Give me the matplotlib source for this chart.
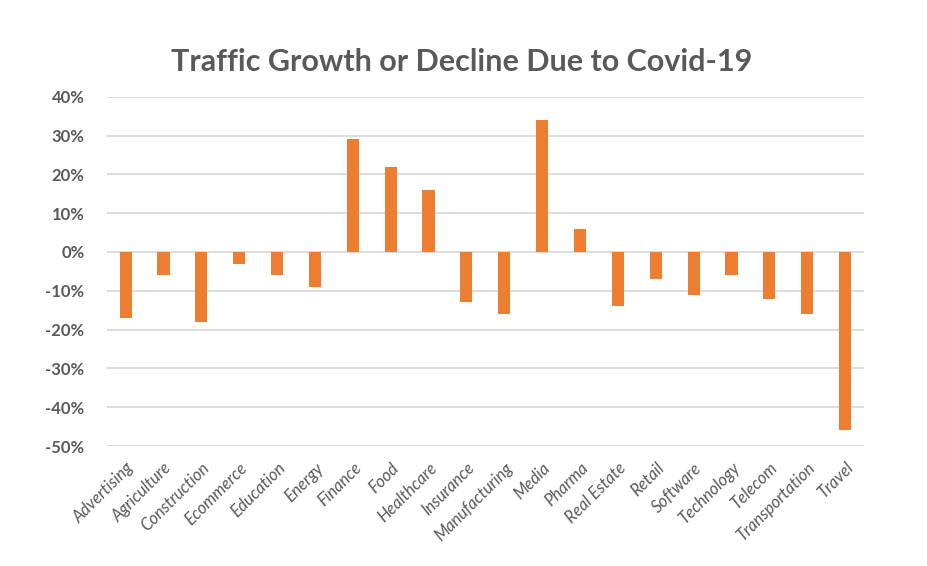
import numpy as np
import matplotlib.pyplot as plt
from matplotlib.ticker import PercentFormatter

# Дані
industries = ['Advertising', 'Agriculture', 'Construction', 'Ecommerce', 'Education',
              'Energy', 'Finance', 'Food', 'Healthcare', 'Insurance', 'Manufacturing',
              'Media', 'Pharma', 'Real Estate', 'Retail', 'Software', 'Technology',
              'Telecom', 'Transportation', 'Travel']
growth = [-0.17, -0.06, -0.18, -0.03, -0.06, -0.09, 0.29, 0.22, 0.16, -0.13, -0.16,
          0.34, 0.06, -0.14, -0.07, -0.11, -0.06, -0.12, -0.16, -0.46]
y_ticks = [-0.5, -0.4, -0.3, -0.2, -0.1, 0.0, 0.1, 0.2, 0.3, 0.4]

text_color = '#595959'
bar_color = '#ED7D31'
plt.rcParams['font.family'] = ['Lato', 'DejaVu Sans']
plt.rcParams['axes.unicode_minus'] = False

fig = plt.figure(figsize=(9.28, 5.66), dpi=100)
ax = fig.add_axes([0.115, 0.212, 0.816, 0.617])

x = np.arange(len(industries))
ax.bar(x, growth, width=0.32, color=bar_color, zorder=3)

ax.set_xlim(-0.5, len(industries) - 0.5)
ax.set_ylim(-0.5, 0.4)
ax.set_yticks(y_ticks)
ax.yaxis.set_major_formatter(PercentFormatter(1.0, decimals=0))
ax.grid(axis='y', color='#d9d9d9', linewidth=1.3, zorder=0)

for spine in ax.spines.values():
    spine.set_visible(False)
ax.tick_params(length=0)
ax.tick_params(axis='y', pad=16, labelsize=12, labelcolor=text_color)
for lab in ax.get_yticklabels():
    lab.set_fontweight('bold')

ax.set_xticks(x)
ax.set_xticklabels(industries, rotation=45, ha='right', rotation_mode='anchor',
                   fontsize=12, color=text_color, style='italic')
ax.tick_params(axis='x', pad=10)

fig.text(0.497, 0.89, 'Traffic Growth or Decline Due to Covid-19', ha='center',
         va='center', fontsize=22, fontweight='bold', color=text_color)

fig.savefig('out.png', dpi=100)
